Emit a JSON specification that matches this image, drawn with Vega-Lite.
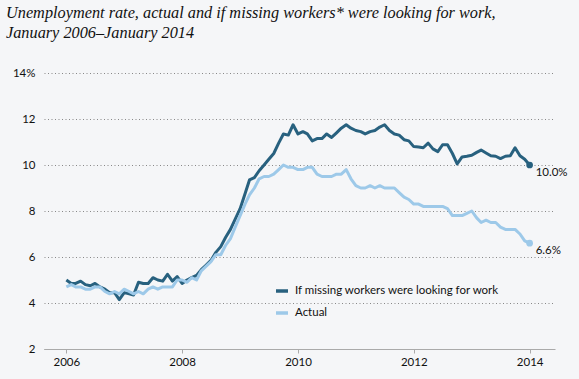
{
  "$schema": "https://vega.github.io/schema/vega-lite/v6.json",
  "width": 511,
  "height": 276,
  "autosize": {"type": "none"},
  "padding": {"left": 44, "top": 73, "right": 24, "bottom": 30},
  "background": "#f5f6f8",
  "title": {
    "text": ["Unemployment rate, actual and if missing workers* were looking for work,", "January 2006–January 2014"],
    "anchor": "start",
    "frame": "group",
    "dx": -38,
    "offset": 26,
    "font": "Liberation Serif",
    "fontStyle": "italic",
    "fontWeight": "normal",
    "fontSize": 16.3,
    "lineHeight": 20,
    "color": "#111111"
  },
  "config": {"view": {"stroke": null}},
  "data": {
    "values": [
      {"date": "2006-01-01", "actual": 4.7, "missing": 5.0},
      {"date": "2006-02-01", "actual": 4.8, "missing": 4.85},
      {"date": "2006-03-01", "actual": 4.7, "missing": 4.85},
      {"date": "2006-04-01", "actual": 4.7, "missing": 4.95},
      {"date": "2006-05-01", "actual": 4.6, "missing": 4.8},
      {"date": "2006-06-01", "actual": 4.6, "missing": 4.75},
      {"date": "2006-07-01", "actual": 4.7, "missing": 4.85},
      {"date": "2006-08-01", "actual": 4.7, "missing": 4.7},
      {"date": "2006-09-01", "actual": 4.5, "missing": 4.6},
      {"date": "2006-10-01", "actual": 4.4, "missing": 4.45},
      {"date": "2006-11-01", "actual": 4.5, "missing": 4.45},
      {"date": "2006-12-01", "actual": 4.4, "missing": 4.15},
      {"date": "2007-01-01", "actual": 4.6, "missing": 4.45},
      {"date": "2007-02-01", "actual": 4.5, "missing": 4.4},
      {"date": "2007-03-01", "actual": 4.4, "missing": 4.35},
      {"date": "2007-04-01", "actual": 4.5, "missing": 4.9},
      {"date": "2007-05-01", "actual": 4.4, "missing": 4.85},
      {"date": "2007-06-01", "actual": 4.6, "missing": 4.85},
      {"date": "2007-07-01", "actual": 4.7, "missing": 5.1},
      {"date": "2007-08-01", "actual": 4.6, "missing": 5.0},
      {"date": "2007-09-01", "actual": 4.7, "missing": 4.95},
      {"date": "2007-10-01", "actual": 4.7, "missing": 5.25},
      {"date": "2007-11-01", "actual": 4.7, "missing": 4.95},
      {"date": "2007-12-01", "actual": 5.0, "missing": 5.15},
      {"date": "2008-01-01", "actual": 5.0, "missing": 4.85},
      {"date": "2008-02-01", "actual": 4.9, "missing": 5.0},
      {"date": "2008-03-01", "actual": 5.1, "missing": 5.1},
      {"date": "2008-04-01", "actual": 5.0, "missing": 5.2},
      {"date": "2008-05-01", "actual": 5.4, "missing": 5.45},
      {"date": "2008-06-01", "actual": 5.6, "missing": 5.65},
      {"date": "2008-07-01", "actual": 5.8, "missing": 5.85},
      {"date": "2008-08-01", "actual": 6.1, "missing": 6.2},
      {"date": "2008-09-01", "actual": 6.1, "missing": 6.45},
      {"date": "2008-10-01", "actual": 6.5, "missing": 6.85},
      {"date": "2008-11-01", "actual": 6.8, "missing": 7.2},
      {"date": "2008-12-01", "actual": 7.3, "missing": 7.65},
      {"date": "2009-01-01", "actual": 7.8, "missing": 8.1},
      {"date": "2009-02-01", "actual": 8.3, "missing": 8.75},
      {"date": "2009-03-01", "actual": 8.7, "missing": 9.35},
      {"date": "2009-04-01", "actual": 9.0, "missing": 9.45},
      {"date": "2009-05-01", "actual": 9.4, "missing": 9.75},
      {"date": "2009-06-01", "actual": 9.5, "missing": 10.0},
      {"date": "2009-07-01", "actual": 9.5, "missing": 10.25},
      {"date": "2009-08-01", "actual": 9.6, "missing": 10.5},
      {"date": "2009-09-01", "actual": 9.8, "missing": 10.95},
      {"date": "2009-10-01", "actual": 10.0, "missing": 11.35},
      {"date": "2009-11-01", "actual": 9.9, "missing": 11.3},
      {"date": "2009-12-01", "actual": 9.9, "missing": 11.75},
      {"date": "2010-01-01", "actual": 9.8, "missing": 11.35},
      {"date": "2010-02-01", "actual": 9.8, "missing": 11.45},
      {"date": "2010-03-01", "actual": 9.9, "missing": 11.35},
      {"date": "2010-04-01", "actual": 9.9, "missing": 11.05},
      {"date": "2010-05-01", "actual": 9.6, "missing": 11.15},
      {"date": "2010-06-01", "actual": 9.5, "missing": 11.15},
      {"date": "2010-07-01", "actual": 9.5, "missing": 11.35},
      {"date": "2010-08-01", "actual": 9.5, "missing": 11.2},
      {"date": "2010-09-01", "actual": 9.6, "missing": 11.4},
      {"date": "2010-10-01", "actual": 9.6, "missing": 11.6},
      {"date": "2010-11-01", "actual": 9.8, "missing": 11.75},
      {"date": "2010-12-01", "actual": 9.4, "missing": 11.6},
      {"date": "2011-01-01", "actual": 9.1, "missing": 11.5},
      {"date": "2011-02-01", "actual": 9.0, "missing": 11.45},
      {"date": "2011-03-01", "actual": 9.0, "missing": 11.35},
      {"date": "2011-04-01", "actual": 9.1, "missing": 11.45},
      {"date": "2011-05-01", "actual": 9.0, "missing": 11.5},
      {"date": "2011-06-01", "actual": 9.1, "missing": 11.65},
      {"date": "2011-07-01", "actual": 9.0, "missing": 11.75},
      {"date": "2011-08-01", "actual": 9.0, "missing": 11.5},
      {"date": "2011-09-01", "actual": 9.0, "missing": 11.35},
      {"date": "2011-10-01", "actual": 8.8, "missing": 11.3},
      {"date": "2011-11-01", "actual": 8.6, "missing": 11.1},
      {"date": "2011-12-01", "actual": 8.5, "missing": 11.05},
      {"date": "2012-01-01", "actual": 8.3, "missing": 10.8},
      {"date": "2012-02-01", "actual": 8.3, "missing": 10.78},
      {"date": "2012-03-01", "actual": 8.2, "missing": 10.75},
      {"date": "2012-04-01", "actual": 8.2, "missing": 10.95},
      {"date": "2012-05-01", "actual": 8.2, "missing": 10.7},
      {"date": "2012-06-01", "actual": 8.2, "missing": 10.58},
      {"date": "2012-07-01", "actual": 8.2, "missing": 10.88},
      {"date": "2012-08-01", "actual": 8.1, "missing": 10.88},
      {"date": "2012-09-01", "actual": 7.8, "missing": 10.5},
      {"date": "2012-10-01", "actual": 7.8, "missing": 10.05},
      {"date": "2012-11-01", "actual": 7.8, "missing": 10.35},
      {"date": "2012-12-01", "actual": 7.9, "missing": 10.38},
      {"date": "2013-01-01", "actual": 8.0, "missing": 10.42},
      {"date": "2013-02-01", "actual": 7.7, "missing": 10.55},
      {"date": "2013-03-01", "actual": 7.5, "missing": 10.65},
      {"date": "2013-04-01", "actual": 7.6, "missing": 10.52},
      {"date": "2013-05-01", "actual": 7.5, "missing": 10.4},
      {"date": "2013-06-01", "actual": 7.5, "missing": 10.38},
      {"date": "2013-07-01", "actual": 7.3, "missing": 10.28},
      {"date": "2013-08-01", "actual": 7.2, "missing": 10.38},
      {"date": "2013-09-01", "actual": 7.2, "missing": 10.4},
      {"date": "2013-10-01", "actual": 7.2, "missing": 10.75},
      {"date": "2013-11-01", "actual": 7.0, "missing": 10.4},
      {"date": "2013-12-01", "actual": 6.7, "missing": 10.25},
      {"date": "2014-01-01", "actual": 6.6, "missing": 10.0}
    ]
  },
  "transform": [{"fold": ["missing", "actual"], "as": ["series", "rate"]}],
  "encoding": {
    "x": {
      "field": "date",
      "type": "temporal",
      "scale": {
        "type": "utc",
        "domain": [
          {"year": 2005, "month": 8, "date": 13, "utc": true},
          {"year": 2014, "month": 6, "date": 10, "utc": true}
        ]
      },
      "axis": {
        "values": [
          {"year": 2006, "month": 1, "date": 1, "utc": true},
          {"year": 2008, "month": 1, "date": 1, "utc": true},
          {"year": 2010, "month": 1, "date": 1, "utc": true},
          {"year": 2012, "month": 1, "date": 1, "utc": true},
          {"year": 2014, "month": 1, "date": 1, "utc": true}
        ],
        "format": "%Y",
        "title": null,
        "grid": false,
        "domainColor": "#aaaaaa",
        "tickColor": "#aaaaaa",
        "tickSize": 4,
        "labelPadding": 3,
        "labelFont": "Lato",
        "labelFontSize": 11.5,
        "labelColor": "#111111"
      }
    },
    "y": {
      "field": "rate",
      "type": "quantitative",
      "scale": {"domain": [2, 14]},
      "axis": {
        "values": [2, 4, 6, 8, 10, 12, 14],
        "labelExpr": "datum.value == 14 ? '14%' : datum.label",
        "title": null,
        "domain": false,
        "ticks": false,
        "grid": true,
        "gridDash": [1, 2.5],
        "gridColor": "#888888",
        "gridWidth": 1,
        "labelPadding": 9,
        "labelFont": "Lato",
        "labelFontSize": 11.5,
        "labelColor": "#111111"
      }
    }
  },
  "layer": [
    {
      "mark": {"type": "line", "strokeWidth": 3, "strokeJoin": "round"},
      "encoding": {
        "color": {
          "field": "series",
          "type": "nominal",
          "scale": {"domain": ["missing", "actual"], "range": ["#28617f", "#9dc9e9"]},
          "legend": {
            "orient": "none",
            "legendX": 230,
            "legendY": 210,
            "title": null,
            "symbolType": "stroke",
            "symbolStrokeWidth": 3.5,
            "symbolSize": 144,
            "labelFont": "Lato",
            "labelFontSize": 11.5,
            "labelLimit": 0,
            "labelColor": "#111111",
            "labelOffset": 5,
            "rowPadding": 7,
            "labelExpr": "datum.value == 'missing' ? 'If missing workers were looking for work' : 'Actual'"
          }
        }
      }
    },
    {
      "transform": [{"filter": {"field": "date", "timeUnit": "utcyear", "equal": 2014}}],
      "mark": {"type": "point", "filled": true, "size": 45, "opacity": 1},
      "encoding": {
        "color": {"field": "series", "type": "nominal", "legend": null}
      }
    },
    {
      "transform": [
        {"filter": {"field": "date", "timeUnit": "utcyear", "equal": 2014}},
        {"calculate": "format(datum.rate, '.1f') + '%'", "as": "label"}
      ],
      "mark": {"type": "text", "align": "left", "baseline": "middle", "dx": 6, "dy": 8, "font": "Lato", "fontSize": 11.5, "color": "#111111"},
      "encoding": {"text": {"field": "label", "type": "nominal"}}
    }
  ]
}
